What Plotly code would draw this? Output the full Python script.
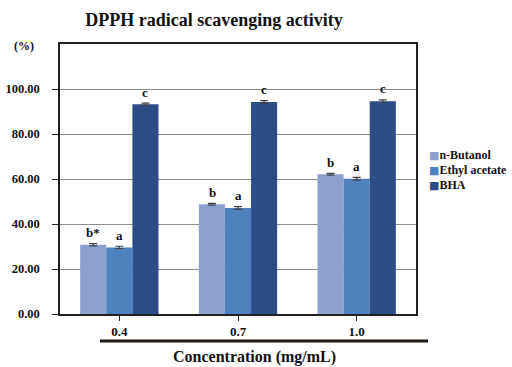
import plotly.graph_objects as go

categories = ["0.4", "0.7", "1.0"]
series_names = ["n-Butanol", "Ethyl acetate", "BHA"]
butanol = [30.8, 48.8, 62.1]
ethyl_acetate = [29.6, 47.1, 60.1]
bha = [93.2, 94.2, 94.6]
butanol_err = [0.5, 0.4, 0.4]
ethyl_err = [0.5, 0.6, 0.6]
bha_err = [0.5, 0.6, 0.6]
letters_butanol = ["b*", "b", "b"]
letters_ethyl = ["a", "a", "a"]
letters_bha = ["c", "c", "c"]
y_ticks = [0, 20, 40, 60, 80, 100]
y_tick_labels = ["0.00", "20.00", "40.00", "60.00", "80.00", "100.00"]

colors = ["#8CA1CF", "#4F81BD", "#2C4D86"]
FONT = "Liberation Serif"

values = [butanol, ethyl_acetate, bha]
errs = [butanol_err, ethyl_err, bha_err]
letters = [letters_butanol, letters_ethyl, letters_bha]

fig = go.Figure()
for name, vals, err, col in zip(series_names, values, errs, colors):
    fig.add_trace(go.Bar(
        x=categories, y=vals, name=name, showlegend=False,
        marker=dict(color=col, line=dict(width=0)),
        error_y=dict(type="data", array=err, visible=True, color="#444444",
                     thickness=1.2, width=4),
    ))

annotations = []
bar_px = 26
for i, (vals, err, lab) in enumerate(zip(values, errs, letters)):
    for j in range(len(categories)):
        annotations.append(dict(
            x=j, y=vals[j] + err[j], xref="x", yref="y",
            text=f"<b>{lab[j]}</b>", showarrow=False,
            xshift=(i - 1) * bar_px, yshift=11,
            font=dict(family=FONT, size=13, color="#111111"),
        ))

# legend (manual, compact like the reference)
for i, (name, col) in enumerate(zip(series_names, colors)):
    annotations.append(dict(
        x=(427 - 60) / 356, y=(314 - (155 + 15 * i)) / 270,
        xref="paper", yref="paper", xanchor="left", yanchor="middle",
        text=(f"<span style='color:{col};font-family:DejaVu Sans;font-size:11px'>■</span>"
              f"<b>{name}</b>"),
        showarrow=False, font=dict(family=FONT, size=12, color="#111111"),
    ))

annotations.append(dict(
    x=(24 - 60) / 356, y=1 + (44 - 46) / 270, xref="paper", yref="paper",
    text="<b>(%)</b>", showarrow=False, xanchor="center", yanchor="middle",
    font=dict(family=FONT, size=12, color="#111111"),
))
annotations.append(dict(
    x=(255 - 60) / 356, y=-(357 - 314) / 270, xref="paper", yref="paper",
    text="<b>Concentration (mg/mL)</b>", showarrow=False,
    xanchor="center", yanchor="middle",
    font=dict(family=FONT, size=16, color="#111111"),
))

fig.update_layout(
    width=512, height=367,
    margin=dict(l=60, r=96, t=44, b=53, autoexpand=False),
    paper_bgcolor="white", plot_bgcolor="white",
    barmode="group", bargap=0.34, bargroupgap=0,
    title=dict(text="<b>DPPH radical scavenging activity</b>",
               x=214 / 512, xanchor="center", y=1 - 20 / 367, yanchor="middle",
               font=dict(family=FONT, size=18, color="#111111")),
    showlegend=False,
    xaxis=dict(
        showline=True, linecolor="#231F20", linewidth=1.5, mirror=True,
        ticks="outside", ticklen=5, tickcolor="#231F20",
        ticktext=[f"<b>{c}</b>" for c in categories], tickvals=categories,
        tickfont=dict(family=FONT, size=13, color="#111111"),
    ),
    yaxis=dict(
        range=[0, 120], tickvals=y_ticks,
        ticktext=[f"<b>{t}</b>" for t in y_tick_labels],
        showline=True, linecolor="#231F20", linewidth=1.5, mirror=True,
        ticks="outside", ticklen=6, tickcolor="#231F20",
        ticklabelstandoff=10,
        showgrid=True, gridcolor="#8C8C8C", gridwidth=1,
        zeroline=False,
        tickfont=dict(family=FONT, size=12.5, color="#111111"),
    ),
    shapes=[dict(type="line", xref="paper", yref="paper",
                 x0=(100 - 60) / 356, x1=(428 - 60) / 356,
                 y0=-(341 - 314) / 270, y1=-(341 - 314) / 270,
                 line=dict(color="#231815", width=3))],
    annotations=annotations,
)

fig.write_html("out.html")
